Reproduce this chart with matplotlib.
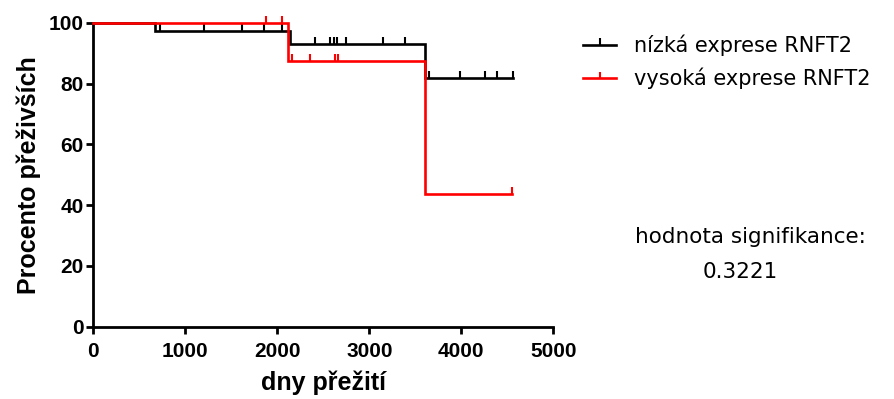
import matplotlib
matplotlib.use("Agg")
import matplotlib.pyplot as plt
from matplotlib.path import Path
from matplotlib.lines import Line2D
import numpy as np

# Low expression (black)
low_times = [0, 674, 2140, 3601, 4565]
low_surv = [100, 97.3, 93.0, 81.7, 81.7]
low_censor = [721, 1199, 1616, 1858, 2051, 2405, 2576, 2612, 2649, 2750,
              3149, 3391, 3645, 3989, 4261, 4388, 4565]

# High expression (red)
high_times = [0, 2116, 3604, 4554]
high_surv = [100, 87.4, 43.75, 43.75]
high_censor = [1880, 2050, 2155, 2355, 2627, 2655, 4554]

xticks = [0, 1000, 2000, 3000, 4000, 5000]
yticks = [0, 20, 40, 60, 80, 100]

plt.rcParams['font.family'] = ['Liberation Sans', 'DejaVu Sans']

fig = plt.figure(figsize=(8.94, 3.99), dpi=100)
ax = fig.add_axes([93.3/894, (399-326.7)/399, 460/894, 304/399])

tick_marker = Path([(0, 0), (0, 1)], [Path.MOVETO, Path.LINETO])

def surv_at(times, surv, t):
    idx = np.searchsorted(times, t, side='right') - 1
    return surv[idx]

for times, surv, cens, col, z in [(low_times, low_surv, low_censor, 'black', 3),
                                  (high_times, high_surv, high_censor, 'red', 4)]:
    ax.step(times, surv, where='post', color=col, lw=1.9, zorder=z, clip_on=False,
            solid_joinstyle='miter')
    cy = [surv_at(times, surv, t) for t in cens]
    ax.plot(cens, cy, linestyle='none', marker=tick_marker, markersize=10,
            markeredgewidth=1.5, color=col, zorder=z, clip_on=False)

ax.set_xlim(0, 5000)
ax.set_ylim(0, 100)
ax.set_xticks(xticks)
ax.set_yticks(yticks)
for s in ['top', 'right']:
    ax.spines[s].set_visible(False)
for s in ['left', 'bottom']:
    ax.spines[s].set_linewidth(2.0)
ax.tick_params(axis='both', width=2.0, length=5, labelsize=15, pad=2)
ax.tick_params(axis='x', pad=6)
for lab in ax.get_xticklabels() + ax.get_yticklabels():
    lab.set_fontweight('bold')
ax.set_xlabel('dny přežití', fontsize=18, fontweight='bold', labelpad=7)
ax.set_ylabel('Procento přeživších', fontsize=18, fontweight='bold', labelpad=5.5)

handles = [Line2D([0], [0], color='black', lw=1.9, marker=tick_marker, markersize=10,
                  markeredgewidth=1.5),
           Line2D([0], [0], color='red', lw=1.9, marker=tick_marker, markersize=8,
                  markeredgewidth=1.5)]
leg = fig.legend(handles, ['nízká exprese RNFT2', 'vysoká exprese RNFT2'],
                 loc='upper left', bbox_to_anchor=(583/894, 1 - 35/399), frameon=False,
                 prop={'family': ['DejaVu Sans'], 'size': 15},
                 handlelength=1.6, handletextpad=0.85, labelspacing=0.55,
                 borderaxespad=0, borderpad=0)

fig.text(635/894, 1 - 237/399, 'hodnota signifikance:', fontsize=15.5,
         family=['DejaVu Sans'], va='center', ha='left')
fig.text(740/894, 1 - 272/399, '0.3221', fontsize=15.5, family=['DejaVu Sans'],
         va='center', ha='center')

fig.savefig('out.png', dpi=100)
